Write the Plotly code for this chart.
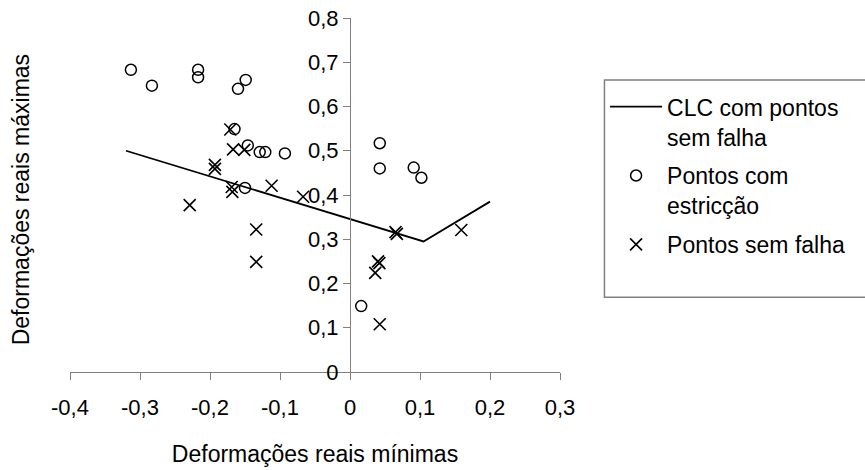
import plotly.graph_objects as go

# CLC curve (forming limit curve for points without failure)
clc_x = [-0.32, 0.105, 0.20]
clc_y = [0.50, 0.295, 0.385]

# Points with necking (estricção)
necking_x = [-0.313, -0.283, -0.217, -0.217, -0.149, -0.160, -0.165, -0.146,
             -0.129, -0.121, -0.093, -0.150, 0.0425, 0.0425, 0.091, 0.102, 0.016]
necking_y = [0.683, 0.647, 0.683, 0.666, 0.660, 0.640, 0.549, 0.512,
             0.497, 0.497, 0.494, 0.416, 0.517, 0.460, 0.462, 0.439, 0.149]

# Points without failure
safe_x = [-0.171, -0.167, -0.151, -0.193, -0.193, -0.169, -0.168, -0.112, -0.229,
          -0.067, -0.134, -0.134, 0.065, 0.067, 0.040, 0.042, 0.036, 0.0425, 0.159]
safe_y = [0.548, 0.503, 0.502, 0.468, 0.459, 0.418, 0.407, 0.421, 0.377,
          0.396, 0.322, 0.249, 0.316, 0.312, 0.250, 0.246, 0.224, 0.108, 0.321]

# Axis ticks
x_ticks = [-0.4, -0.3, -0.2, -0.1, 0.0, 0.1, 0.2, 0.3]
x_tick_labels = ["-0,4", "-0,3", "-0,2", "-0,1", "0", "0,1", "0,2", "0,3"]
y_ticks = [0.0, 0.1, 0.2, 0.3, 0.4, 0.5, 0.6, 0.7, 0.8]
y_tick_labels = ["0", "0,1", "0,2", "0,3", "0,4", "0,5", "0,6", "0,7", "0,8"]

FONT = "Liberation Sans, Arial, sans-serif"
AXIS_GRAY = "#808080"

fig = go.Figure()

fig.add_trace(go.Scatter(
    x=clc_x, y=clc_y, mode="lines",
    name="CLC com pontos<br>sem falha", legendgroup="clc",
    line=dict(color="black", width=1.8),
))
fig.add_trace(go.Scatter(
    x=necking_x, y=necking_y, mode="markers",
    name="Pontos com<br>estricção", legendgroup="necking",
    marker=dict(symbol="circle-open", size=11, color="black",
                line=dict(color="black", width=1.5)),
))
fig.add_trace(go.Scatter(
    x=safe_x, y=safe_y, mode="markers",
    name="Pontos sem falha", legendgroup="safe",
    marker=dict(symbol="x-thin-open", size=12, color="black",
                line=dict(color="black", width=1.6)),
))

fig.update_layout(
    width=865, height=470,
    margin=dict(l=70, r=305, t=18, b=98, autoexpand=False),
    paper_bgcolor="white", plot_bgcolor="white",
    font=dict(family=FONT, size=22, color="black"),
    showlegend=True,
    legend=dict(
        x=1.092, y=0.81, xanchor="left", yanchor="top",
        valign="top", bgcolor="rgba(0,0,0,0)", borderwidth=0,
        itemwidth=52, tracegroupgap=6,
        font=dict(family=FONT, size=23, color="black"),
    ),
    xaxis=dict(
        range=[-0.4, 0.3], tickvals=x_ticks, ticktext=x_tick_labels,
        showline=True, linecolor=AXIS_GRAY, linewidth=1,
        ticks="outside", ticklen=7, tickcolor=AXIS_GRAY,
        ticklabelstandoff=9,
        showgrid=False, zeroline=False,
        title=dict(text="Deformações reais mínimas", standoff=26,
                   font=dict(family=FONT, size=23)),
    ),
    yaxis=dict(
        range=[0, 0.8], tickvals=y_ticks, ticktext=y_tick_labels,
        anchor="free", position=0.4 / 0.7,
        showline=True, linecolor=AXIS_GRAY, linewidth=1,
        ticks="outside", ticklen=7, tickcolor=AXIS_GRAY,
        showgrid=False, zeroline=False,
    ),
    shapes=[dict(
        type="rect", xref="paper", yref="paper",
        x0=1.0907, x1=1.631, y0=0.2112, y1=0.8247,
        line=dict(color=AXIS_GRAY, width=1.5), fillcolor="rgba(0,0,0,0)",
    )],
    annotations=[dict(
        text="Deformações reais máximas", textangle=-90,
        xref="paper", yref="paper", x=-0.1, y=0.485,
        xanchor="center", yanchor="middle", showarrow=False,
        font=dict(family=FONT, size=23, color="black"),
    )],
)

fig.write_html("out.html")
